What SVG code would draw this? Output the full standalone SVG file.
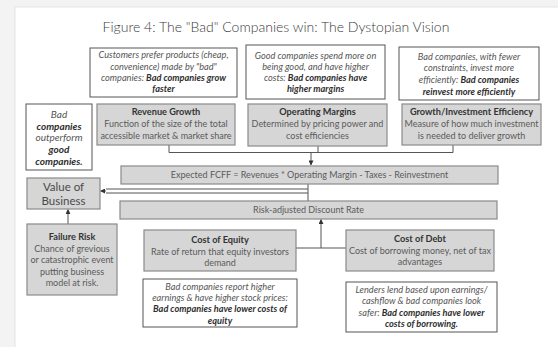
<svg xmlns="http://www.w3.org/2000/svg" width="558" height="347" viewBox="0 0 558 347">
  <style>
    text { font-family: Lato, "Open Sans", "Liberation Sans", sans-serif; text-anchor: middle; }
    .title { font-size: 14px; font-weight: 300; fill: #3a3a3a; }
    .note { fill: #ffffff; stroke: #555555; stroke-width: 1; }
    .box { fill: #d6d6d6; stroke: #8a8a8a; stroke-width: 1.2; }
    .nt { font-size: 9.2px; font-style: italic; fill: #555555; }
    .nb { font-weight: 700; fill: #2e2e2e; }
    .lt { font-size: 10px; }
    .bh { font-size: 9.2px; font-weight: 700; fill: #333333; }
    .bt { font-size: 9px; fill: #5a5a5a; }
    .big { font-size: 11.5px; fill: #4a4a4a; }
    .lnk { fill: none; stroke: #555555; stroke-width: 1; }
  </style>
  <defs>
    <marker id="arr" viewBox="0 0 6 6" refX="5.5" refY="3" markerWidth="5" markerHeight="5" orient="auto">
      <path d="M0,0 L6,3 L0,6 z" fill="#333333"/>
    </marker>
  </defs>

  <!-- page frame -->
  <rect x="0" y="0" width="558" height="347" fill="#f3f3f3"/>
  <rect x="15" y="7" width="560" height="360" fill="#ffffff" stroke="#e4e4e4" stroke-width="1"/>

  <text class="title" x="276" y="32">Figure 4: The "Bad" Companies win: The Dystopian Vision</text>

  <!-- connectors -->
  <g id="connectors">
    <path class="lnk" d="M169,145 V152.5 H453 V145"/>
    <path class="lnk" d="M318,146 V152.5"/>
    <path class="lnk" d="M311,152.5 V165" marker-end="url(#arr)"/>
    <path class="lnk" d="M308,184 V201"/>
    <path class="lnk" d="M308,189 H106"/>
    <path class="lnk" d="M308,193 H106"/>
    <path class="lnk" d="M106,191 H100.5" marker-end="url(#arr)"/>
    <path class="lnk" d="M68,224 V209.5" marker-end="url(#arr)"/>
    <path class="lnk" d="M296,248 H346"/>
    <path class="lnk" d="M321,248 V219.5" marker-end="url(#arr)"/>
  </g>

  <!-- top notes -->
  <g id="note-growth">
    <rect class="note" x="90" y="48" width="147" height="49"/>
    <text class="nt" x="163.5" y="58">Customers prefer products (cheap,</text>
    <text class="nt" x="163.5" y="70">convenience) made by "bad"</text>
    <text class="nt" x="163.5" y="81">companies: <tspan class="nb">Bad companies grow</tspan></text>
    <text class="nt nb" x="163.5" y="92">faster</text>
  </g>
  <g id="note-margins">
    <rect class="note" x="246" y="45" width="139" height="54"/>
    <text class="nt" x="315.5" y="59">Good companies spend more on</text>
    <text class="nt" x="315.5" y="70">being good, and have higher</text>
    <text class="nt" x="315.5" y="81">costs: <tspan class="nb">Bad companies have</tspan></text>
    <text class="nt nb" x="315.5" y="92">higher margins</text>
  </g>
  <g id="note-efficiency">
    <rect class="note" x="399" y="47" width="140" height="53"/>
    <text class="nt" x="469" y="60">Bad companies, with fewer</text>
    <text class="nt" x="469" y="71">constraints, invest more</text>
    <text class="nt" x="469" y="83">efficiently: <tspan class="nb">Bad companies</tspan></text>
    <text class="nt nb" x="469" y="95">reinvest more efficiently</text>
  </g>

  <g id="note-outperform">
    <rect class="note" x="26" y="104" width="66" height="66"/>
    <text class="nt lt" x="59" y="118">Bad</text>
    <text class="nt nb lt" x="59" y="130">companies</text>
    <text class="nt lt" x="59" y="141">outperform</text>
    <text class="nt nb lt" x="59" y="153">good</text>
    <text class="nt nb lt" x="59" y="165">companies.</text>
  </g>

  <!-- value drivers -->
  <g id="revenue-growth">
    <rect class="box" x="97" y="104" width="138" height="41"/>
    <text class="bh" x="166" y="115">Revenue Growth</text>
    <text class="bt" x="166" y="127">Function of the size of the total</text>
    <text class="bt" x="166" y="139">accessible market &amp; market share</text>
  </g>
  <g id="operating-margins">
    <rect class="box" x="248" y="104" width="139" height="42"/>
    <text class="bh" x="317.5" y="115">Operating Margins</text>
    <text class="bt" x="317.5" y="127">Determined by pricing power and</text>
    <text class="bt" x="317.5" y="139">cost efficiencies</text>
  </g>
  <g id="investment-efficiency">
    <rect class="box" x="402" y="104" width="139" height="41"/>
    <text class="bh" x="471.5" y="115">Growth/Investment Efficiency</text>
    <text class="bt" x="471.5" y="127">Measure of how much investment</text>
    <text class="bt" x="471.5" y="139">is needed to deliver growth</text>
  </g>

  <g id="fcff">
    <rect class="box" x="121" y="166" width="377" height="18"/>
    <text class="bt" x="309.5" y="178">Expected FCFF = Revenues * Operating Margin - Taxes - Reinvestment</text>
  </g>
  <g id="discount-rate">
    <rect class="box" x="120" y="201" width="377" height="18"/>
    <text class="bt" x="308.5" y="213">Risk-adjusted Discount Rate</text>
  </g>

  <g id="value-of-business">
    <rect class="box" x="27" y="178" width="73" height="31"/>
    <text class="big" x="63.5" y="191">Value of</text>
    <text class="big" x="63.5" y="205">Business</text>
  </g>

  <g id="failure-risk">
    <rect class="box" x="27" y="224" width="90" height="71"/>
    <text class="bh" x="72" y="240">Failure Risk</text>
    <text class="bt" x="72" y="252">Chance of grevious</text>
    <text class="bt" x="72" y="263">or catastrophic event</text>
    <text class="bt" x="72" y="275">putting business</text>
    <text class="bt" x="72" y="286">model at risk.</text>
  </g>

  <g id="cost-of-equity">
    <rect class="box" x="144" y="230" width="152" height="41"/>
    <text class="bh" x="220" y="243">Cost of Equity</text>
    <text class="bt" x="220" y="255">Rate of return that equity investors</text>
    <text class="bt" x="220" y="266">demand</text>
  </g>
  <g id="cost-of-debt">
    <rect class="box" x="346" y="230" width="148" height="41"/>
    <text class="bh" x="420" y="242">Cost of Debt</text>
    <text class="bt" x="420" y="254">Cost of borrowing money, net of tax</text>
    <text class="bt" x="420" y="265">advantages</text>
  </g>

  <!-- bottom notes -->
  <g id="note-equity">
    <rect class="note" x="143" y="279" width="154" height="48"/>
    <text class="nt" x="220" y="290">Bad companies report higher</text>
    <text class="nt" x="220" y="301">earnings &amp; have higher stock prices:</text>
    <text class="nt nb" x="220" y="312">Bad companies have lower costs of</text>
    <text class="nt nb" x="220" y="324">equity</text>
  </g>
  <g id="note-debt">
    <rect class="note" x="346" y="282" width="151" height="50"/>
    <text class="nt" x="421.5" y="293">Lenders lend based upon earnings/</text>
    <text class="nt" x="421.5" y="304">cashflow &amp; bad companies look</text>
    <text class="nt" x="421.5" y="316">safer: <tspan class="nb">Bad companies have lower</tspan></text>
    <text class="nt nb" x="421.5" y="327">costs of borrowing.</text>
  </g>
</svg>
